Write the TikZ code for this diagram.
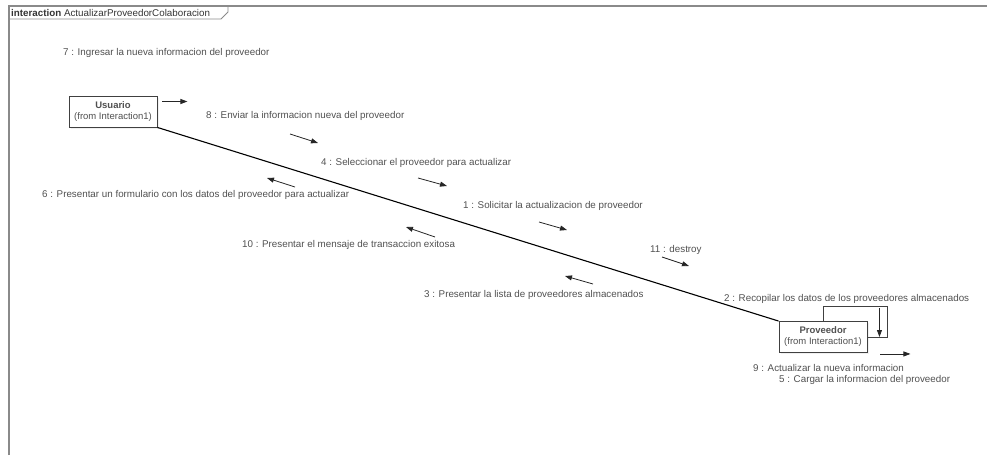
\documentclass[tikz,border=0pt]{standalone}
\usepackage{fontspec}
\setmainfont{Liberation Sans}
\usetikzlibrary{positioning, arrows.meta, calc, shadows}
\definecolor{umltext}{HTML}{505050}
\definecolor{umlframe}{HTML}{8A8A8A}
\definecolor{umlbox}{HTML}{404040}

\begin{document}
\begin{tikzpicture}[
		x=1pt, y=-1pt,
		lifeline/.style={rectangle, draw=umlbox, line width=0.9pt, fill=white,
			minimum width=88pt, minimum height=31pt, inner sep=1pt, align=center,
			text=umltext, font=\fontsize{9.5}{11}\selectfont,
			drop shadow={opacity=0.12, shadow xshift=1.5pt, shadow yshift=-1.5pt}},
		msglabel/.style={anchor=west, inner sep=0pt, text=umltext,
			font=\fontsize{9.8}{11}\selectfont},
		msg/.style={-{Triangle[length=7pt, width=5pt]}, line width=0.8pt, black!85},
		link/.style={line width=1.1pt, black},
		frame/.style={draw=umlframe, line width=1.4pt},
		]
		\useasboundingbox (0,0) rectangle (987,455);
		
		% Interaction frame and its tab
		\draw[frame] (9,455) -- (9,6) -- (987,6);
		\draw[frame, line width=0.8pt] (9,19) -- (221,19) -- (228,12) -- (228,6);
		\node[msglabel, text=black!80] (title) at (11,12.5)
		{\textbf{interaction} ActualizarProveedorColaboracion};
		
		% Objects
		\node[lifeline] (usuario) at (113,111.5) {\textbf{Usuario}\\(from Interaction1)};
		\node[lifeline] (proveedor) at (823,337) {\textbf{Proveedor}\\(from Interaction1)};
		
		% Link between the objects
		\draw[link] (usuario.south east) -- (proveedor.north west);
		
		% Self link on Proveedor
		\draw[line width=0.9pt, umlbox] (proveedor.north) -- ++(0,-15) -| ([xshift=20pt]proveedor.east) -- (proveedor.east);
		\draw[msg] ($(proveedor.east)+(12,-29)$) -- ($(proveedor.east)+(12,0)$);
		
		% Outgoing messages of the objects
		\coordinate (u7) at ([xshift=5pt, yshift=10pt]usuario.east);
		\draw[msg] (u7) -- ++(25,0);
		\coordinate (p9) at ([xshift=13pt, yshift=-1pt]proveedor.south east);
		\draw[msg] (p9) -- ++(30,0);
		
		% Messages along the link
		\foreach \n/\xa/\ya/\xb/\yb in {8/290/134/318/143, 4/418/178/447/186,
			6/295/187/267/178, 1/539/222/567/230, 10/435/237/406/227,
			11/662/257/689/266, 3/593/284/565/276} {
			\coordinate (m\n s) at (\xa,\ya);
			\coordinate (m\n e) at (\xb,\yb);
			\draw[msg] (m\n s) -- (m\n e);
		}
		
		% Message labels
		\node[msglabel] (l7) at (63,53) {7 : Ingresar la nueva informacion del proveedor};
		\node[msglabel] (l8) at (206,116) {8 : Enviar la informacion nueva del proveedor};
		\node[msglabel] (l4) at (321,163) {4 : Seleccionar el proveedor para actualizar};
		\node[msglabel] (l6) at (42,195) {6 : Presentar un formulario con los datos del proveedor para actualizar};
		\node[msglabel] (l1) at (463,206) {1 : Solicitar la actualizacion de proveedor};
		\node[msglabel] (l10) at (242,245) {10 : Presentar el mensaje de transaccion exitosa};
		\node[msglabel] (l11) at (650,250) {11 : destroy};
		\node[msglabel] (l3) at (424,295) {3 : Presentar la lista de proveedores almacenados};
		\node[msglabel] (l2) at (724,299) {2 : Recopilar los datos de los proveedores almacenados};
		\node[msglabel] (l9) at (753,368) {9 : Actualizar la nueva informacion};
		\node[msglabel] (l5) at (779,380) {5 : Cargar la informacion del proveedor};
	\end{tikzpicture}
\end{document}
